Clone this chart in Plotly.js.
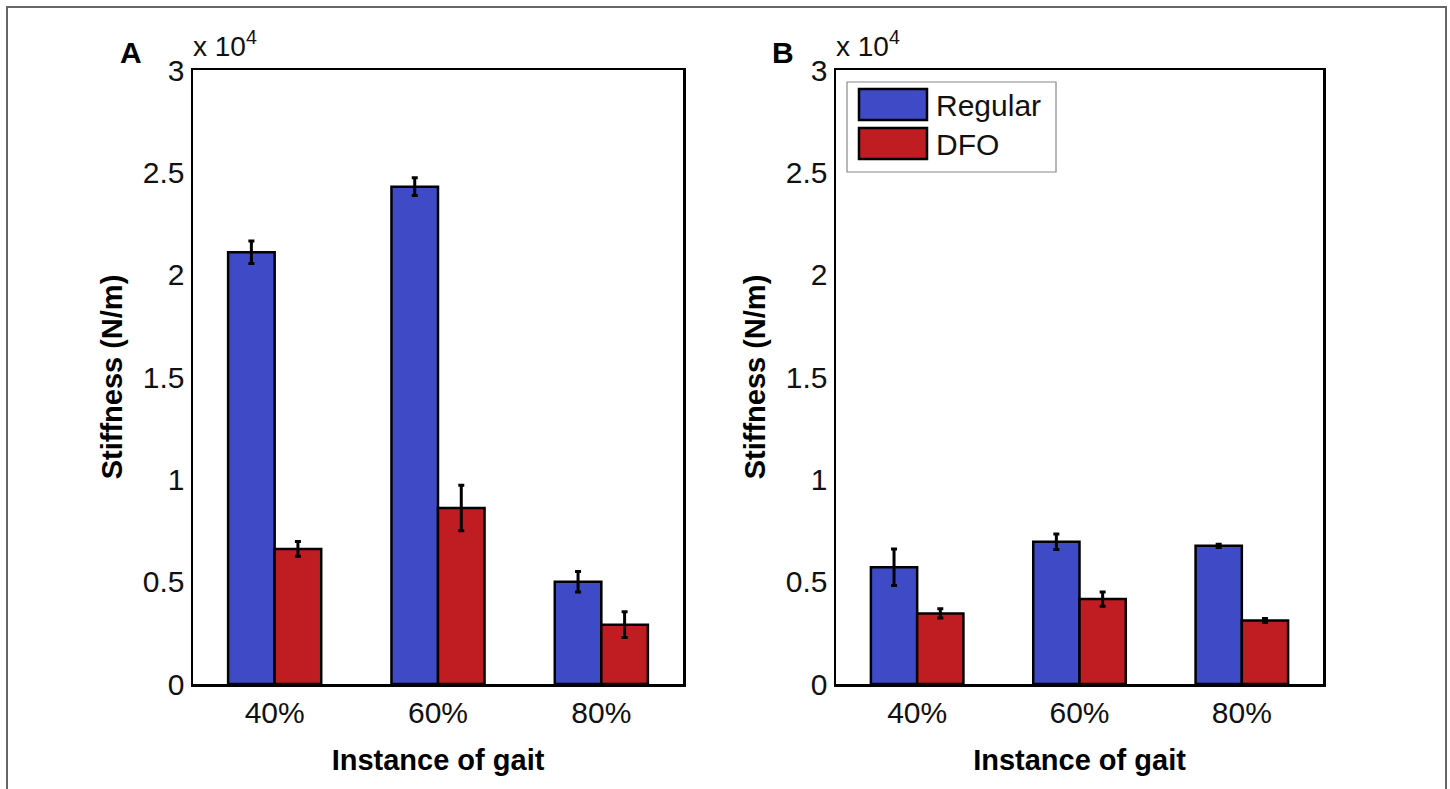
<!DOCTYPE html>
<html>
<head>
<meta charset="utf-8">
<script src="https://cdn.plot.ly/plotly-3.0.1.min.js"></script>
<style>
  html, body { margin: 0; padding: 0; background: #fff; }
  #chart { width: 1450px; height: 789px; }
</style>
</head>
<body>
<div id="chart"></div>
<script>
// ---- Data (N/m) ----
const categories = ['40%', '60%', '80%'];
const seriesNames = ['Regular', 'DFO'];

const regularA    = [21100, 24300, 5000];
const regularAErr = [550, 430, 500];
const dfoA        = [6600, 8600, 2900];
const dfoAErr     = [360, 1110, 630];

const regularB    = [5700, 6950, 6750];
const regularBErr = [890, 380, 80];
const dfoB        = [3450, 4150, 3100];
const dfoBErr     = [230, 350, 100];

const yTickVals = [0, 5000, 10000, 15000, 20000, 25000, 30000];
const yTickText = ['0', '0.5', '1', '1.5', '2', '2.5', '3'];
const panelLabels = ['A', 'B'];
const xTitle = 'Instance of gait';
const yTitle = 'Stiffness (N/m)';
const exponentText = 'x 10<sup>4</sup>';

// ---- Style ----
const W = 1450, H = 789;
const px = v => v / W;
const py = v => 1 - v / H;
const BLUE = '#3f4ac6';
const RED = '#c01d23';
const FONT = 'Liberation Sans, Arial, Helvetica, sans-serif';

function barTrace(y, err, color, name, xa, ya) {
  return {
    type: 'bar', x: categories, y: y, name: name,
    xaxis: xa, yaxis: ya, showlegend: false,
    marker: { color: color, line: { color: '#000', width: 2.5 } },
    error_y: { type: 'data', array: err, visible: true, color: '#000', thickness: 3, width: 3 },
    hoverinfo: 'x+y'
  };
}

const data = [
  barTrace(regularA, regularAErr, BLUE, seriesNames[0], 'x', 'y'),
  barTrace(dfoA, dfoAErr, RED, seriesNames[1], 'x', 'y'),
  barTrace(regularB, regularBErr, BLUE, seriesNames[0], 'x2', 'y2'),
  barTrace(dfoB, dfoBErr, RED, seriesNames[1], 'x2', 'y2')
];

function xAxis(domain, anchor) {
  return {
    domain: domain, anchor: anchor, type: 'category',
    range: [-0.5, 2.5], showline: true, mirror: true, linecolor: '#000', linewidth: 2.5,
    ticks: '', showgrid: false, zeroline: false, ticklabelstandoff: 0,
    tickfont: { family: FONT, size: 30, color: '#111' },
    title: { text: xTitle, standoff: 22, font: { family: FONT, size: 29, color: '#000', weight: 'bold' } }
  };
}
function yAxis(domain, anchor) {
  return {
    domain: domain, anchor: anchor, range: [0, 30000],
    tickvals: yTickVals, ticktext: yTickText,
    showline: true, mirror: true, linecolor: '#000', linewidth: 2.5,
    ticks: '', showgrid: false, zeroline: false, ticklabelstandoff: 0,
    tickfont: { family: FONT, size: 30, color: '#111' },
    title: { text: yTitle, standoff: 12, font: { family: FONT, size: 29, color: '#000', weight: 'bold' } }
  };
}

const yDom = [1 - 684 / H, 1 - 70 / H];
const layout = {
  width: W, height: H,
  margin: { l: 0, r: 0, t: 0, b: 0 },
  paper_bgcolor: '#fff', plot_bgcolor: '#fff',
  barmode: 'group', bargap: 0.43, bargroupgap: 0,
  showlegend: false,
  font: { family: FONT },
  xaxis: xAxis([px(193), px(683)], 'y'),
  yaxis: yAxis(yDom, 'x'),
  xaxis2: xAxis([px(836), px(1323)], 'y2'),
  yaxis2: yAxis(yDom, 'x2'),
  shapes: [
    // outer figure frame
    { type: 'rect', xref: 'paper', yref: 'paper', x0: px(7), x1: px(1446), y0: -0.05, y1: py(7),
      line: { color: '#666', width: 2 }, fillcolor: 'rgba(0,0,0,0)', layer: 'below' },
    // legend box
    { type: 'rect', xref: 'paper', yref: 'paper', x0: px(847), x1: px(1056), y0: py(172), y1: py(82),
      line: { color: '#888', width: 1.2 }, fillcolor: '#fff' },
    { type: 'rect', xref: 'paper', yref: 'paper', x0: px(859), x1: px(927), y0: py(120), y1: py(89),
      line: { color: '#000', width: 2.5 }, fillcolor: BLUE },
    { type: 'rect', xref: 'paper', yref: 'paper', x0: px(859), x1: px(927), y0: py(159), y1: py(128),
      line: { color: '#000', width: 2.5 }, fillcolor: RED }
  ],
  annotations: [
    { xref: 'paper', yref: 'paper', x: px(131), y: py(53), text: panelLabels[0], showarrow: false,
      xanchor: 'center', yanchor: 'middle', font: { family: FONT, size: 30, color: '#000', weight: 'bold' } },
    { xref: 'paper', yref: 'paper', x: px(783), y: py(53), text: panelLabels[1], showarrow: false,
      xanchor: 'center', yanchor: 'middle', font: { family: FONT, size: 30, color: '#000', weight: 'bold' } },
    { xref: 'paper', yref: 'paper', x: px(191), y: py(64), text: exponentText, showarrow: false,
      xanchor: 'left', yanchor: 'bottom', font: { family: FONT, size: 28, color: '#111' } },
    { xref: 'paper', yref: 'paper', x: px(834), y: py(64), text: exponentText, showarrow: false,
      xanchor: 'left', yanchor: 'bottom', font: { family: FONT, size: 28, color: '#111' } },
    { xref: 'paper', yref: 'paper', x: px(934), y: py(105), text: seriesNames[0], showarrow: false,
      xanchor: 'left', yanchor: 'middle', font: { family: FONT, size: 30, color: '#111' } },
    { xref: 'paper', yref: 'paper', x: px(934), y: py(144), text: seriesNames[1], showarrow: false,
      xanchor: 'left', yanchor: 'middle', font: { family: FONT, size: 30, color: '#111' } }
  ]
};

Plotly.newPlot('chart', data, layout, { staticPlot: true, displayModeBar: false });
</script>
</body>
</html>
